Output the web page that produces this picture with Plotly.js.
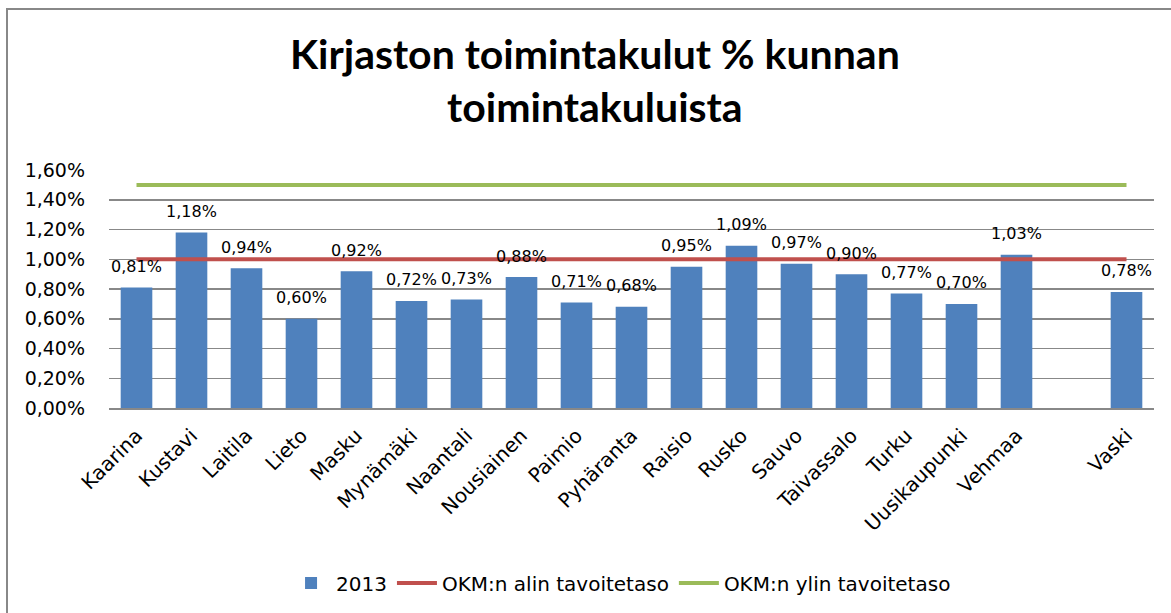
<!DOCTYPE html>
<html>
<head>
<meta charset="utf-8">
<script src="https://cdn.plot.ly/plotly-3.0.1.min.js"></script>
<style>
html,body{margin:0;padding:0;background:#fff;}
#frame{position:absolute;left:6px;top:8px;width:1171px;height:613px;border-left:2px solid #888;border-top:2px solid #888;box-sizing:border-box;pointer-events:none;z-index:5;}
#chart{position:absolute;left:0;top:0;width:1171px;height:613px;}
</style>
</head>
<body>
<div id="chart"></div>
<div id="frame"></div>
<script>
const categories = ["Kaarina","Kustavi","Laitila","Lieto","Masku","Mynämäki","Naantali","Nousiainen","Paimio","Pyhäranta","Raisio","Rusko","Sauvo","Taivassalo","Turku","Uusikaupunki","Vehmaa","","Vaski"];
const values2013 = [0.81,1.18,0.94,0.60,0.92,0.72,0.73,0.88,0.71,0.68,0.95,1.09,0.97,0.90,0.77,0.70,1.03,null,0.78];
const alinTaso = [1.00,1.00,1.00,1.00,1.00,1.00,1.00,1.00,1.00,1.00,1.00,1.00,1.00,1.00,1.00,1.00,1.00,1.00,1.00];
const ylinTaso = [1.50,1.50,1.50,1.50,1.50,1.50,1.50,1.50,1.50,1.50,1.50,1.50,1.50,1.50,1.50,1.50,1.50,1.50,1.50];
const seriesNames = ["2013","OKM:n alin tavoitetaso","OKM:n ylin tavoitetaso"];
const titleText = "Kirjaston toimintakulut % kunnan<br>toimintakuluista";

const xPos = categories.map((c, i) => i);
const fmt = v => v.toFixed(2).replace('.', ',') + '%';
const font = "DejaVu Sans, sans-serif";

const traces = [
  {type:'bar', name:seriesNames[0], x:xPos, y:values2013, marker:{color:'#4F81BD'}, hoverinfo:'skip'},
  {type:'scatter', mode:'lines', name:seriesNames[1], x:xPos, y:alinTaso, line:{color:'#C0504D', width:4}},
  {type:'scatter', mode:'lines', name:seriesNames[2], x:xPos, y:ylinTaso, line:{color:'#9BBB59', width:4}}
];

const annotations = [];
values2013.forEach((v, i) => {
  if (v === null) return;
  annotations.push({x:xPos[i], y:v, xref:'x', yref:'y', text:fmt(v), showarrow:false,
    yanchor:'middle', yshift:21, font:{family:font, size:16, color:'#000'}});
});

const layout = {
  width:1171, height:613,
  margin:{l:109, r:17, t:170, b:204},
  paper_bgcolor:'#fff', plot_bgcolor:'#fff',
  separators:', ',
  bargap:0.425,
  title:{text:titleText, font:{family:"Lato, sans-serif", size:41, color:'#000', weight:'bold'},
    x:0.508, xanchor:'center', y:0.888, yanchor:'top', yref:'container'},
  xaxis:{range:[-0.5, categories.length-0.5], tickvals:xPos, ticktext:categories, tickangle:-45,
    tickfont:{family:font, size:20, color:'#000'}, showgrid:false, zeroline:false,
    showline:true, linecolor:'#888', linewidth:2, ticks:'', ticklabelstandoff:6, fixedrange:true},
  yaxis:{range:[0,1.6], dtick:0.2, tickformat:'.2f', ticksuffix:'%', showgrid:true, gridcolor:'#888', gridwidth:1.5,
    tickfont:{family:font, size:19, color:'#000'}, zeroline:false, showline:false, ticks:'', ticklabelstandoff:23, fixedrange:true},
  legend:{orientation:'h', x:0.49, xanchor:'center', y:-0.728, yanchor:'middle',
    font:{family:font, size:20, color:'#000'}, itemwidth:40, tracegroupgap:0},
  annotations:annotations,
  showlegend:true
};

Plotly.newPlot('chart', traces, layout, {displayModeBar:false, staticPlot:true});
</script>
</body>
</html>
